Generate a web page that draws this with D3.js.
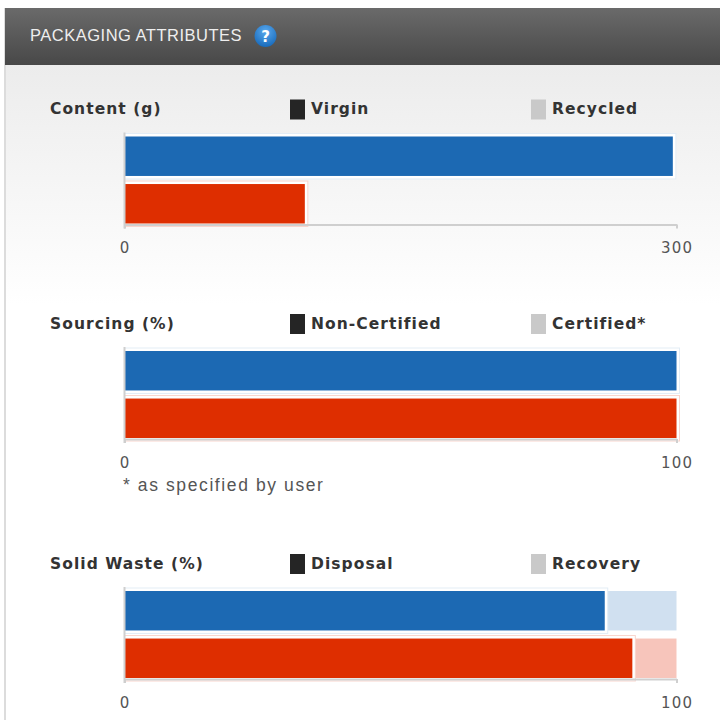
<!DOCTYPE html>
<html>
<head>
<meta charset="utf-8">
<script src="https://d3js.org/d3.v7.min.js"></script>
<style>
html, body {margin: 0; padding: 0; background: #fff;}
svg {display: block;}
.title {font: bold 15.5px "DejaVu Sans"; fill: #333; letter-spacing: 1.05px;}
.tick text {font: 15px "DejaVu Sans"; fill: #555; letter-spacing: 1.2px;}
.axis path, .tick line {stroke: #cfcfcf; stroke-width: 2px;}
</style>
</head>
<body>
<svg width="720" height="720"></svg>
<script>
// one array per chart row: [blue bar, red bar], solid part of the stack
var contentSolid = [298, 98];
var contentLight = [0, 0];
var sourcingSolid = [100, 100];
var sourcingLight = [0, 0];
var wasteSolid = [87, 92];
var wasteLight = [13, 8];

var titles = ["Content (g)", "Sourcing (%)", "Solid Waste (%)"];
var legendDark = ["Virgin", "Non-Certified", "Disposal"];
var legendLight = ["Recycled", "Certified*", "Recovery"];
var maxValues = [300, 100, 100];
var footnote = "* as specified by user";
var header = "PACKAGING ATTRIBUTES";

var rows = [
  {title: 0, top: 136.5, solid: contentSolid, light: contentLight},
  {title: 1, top: 351, solid: sourcingSolid, light: sourcingLight},
  {title: 2, top: 591, solid: wasteSolid, light: wasteLight}
];

var colors = {blue: "#1c69b3", red: "#de2e00", blueLight: "#d0e0f0", redLight: "#f7c5bb"};
var left = 124.5, right = 676.5;

var svg = d3.select("svg");
var defs = svg.append("defs");

var hg = defs.append("linearGradient").attr("id", "hdr").attr("x2", 0).attr("y2", 1);
hg.append("stop").attr("offset", 0).attr("stop-color", "#6a6a6a");
hg.append("stop").attr("offset", 1).attr("stop-color", "#484848");

var pg = defs.append("linearGradient").attr("id", "panel").attr("x2", 0).attr("y2", 1);
pg.append("stop").attr("offset", 0).attr("stop-color", "#ececec");
pg.append("stop").attr("offset", 1).attr("stop-color", "#ffffff");

var qg = defs.append("radialGradient").attr("id", "help").attr("cy", 0.3).attr("r", 0.8);
qg.append("stop").attr("offset", 0).attr("stop-color", "#5aa9ee");
qg.append("stop").attr("offset", 1).attr("stop-color", "#0f62b4");

// page frame and header
svg.append("rect").attr("x", 5).attr("y", 65).attr("width", 715).attr("height", 240).attr("fill", "url(#panel)");
svg.append("rect").attr("x", 4).attr("y", 8).attr("width", 2).attr("height", 712).attr("fill", "#dcdcdc");
svg.append("rect").attr("x", 5).attr("y", 8).attr("width", 715).attr("height", 57).attr("fill", "url(#hdr)");
svg.append("text").attr("x", 30).attr("y", 41)
  .style("font", "16.5px 'Liberation Sans'").style("letter-spacing", "0.5px").style("fill", "#eee").text(header);
svg.append("circle").attr("cx", 265.5).attr("cy", 36).attr("r", 11).attr("fill", "url(#help)");
svg.append("text").attr("x", 265.5).attr("y", 41.5).attr("text-anchor", "middle")
  .style("font", "bold 15px 'DejaVu Sans'").style("fill", "#fff").text("?");

rows.forEach(function(r) {
  var x = d3.scaleLinear().domain([0, maxValues[r.title]]).range([left, right]);
  var y = d3.scaleBand().domain([0, 1]).range([r.top, r.top + 87]).paddingInner(0.17);
  var g = svg.append("g");

  // title and legend
  g.append("text").attr("class", "title").attr("x", 50).attr("y", r.top - 22.5).text(titles[r.title]);
  g.append("rect").attr("x", 290).attr("y", r.top - 37).attr("width", 15).attr("height", 20).attr("fill", "#252525");
  g.append("text").attr("class", "title").attr("x", 311).attr("y", r.top - 22.5).text(legendDark[r.title]);
  g.append("rect").attr("x", 531).attr("y", r.top - 37).attr("width", 15).attr("height", 20).attr("fill", "#c9c9c9");
  g.append("text").attr("class", "title").attr("x", 552).attr("y", r.top - 22.5).text(legendLight[r.title]);

  // light remainder behind the solid bars
  g.selectAll("rect.light").data(r.light).enter().append("rect")
    .attr("class", "light")
    .attr("x", function(d, i) { return x(r.solid[i]); })
    .attr("y", function(d, i) { return y(i); })
    .attr("width", function(d) { return x(d) - x(0); })
    .attr("height", y.bandwidth())
    .attr("fill", function(d, i) { return i ? colors.redLight : colors.blueLight; });

  // white halo round each solid bar
  g.selectAll("rect.halo").data(r.solid).enter().append("rect")
    .attr("class", "halo")
    .attr("x", x(0))
    .attr("y", function(d, i) { return y(i) - 3; })
    .attr("width", function(d) { return x(d) - x(0) + 3; })
    .attr("height", y.bandwidth() + 6)
    .attr("fill", "#fff")
    .attr("stroke", function(d, i) { return i ? "#f9d5cd" : "#e3edf6"; });

  g.selectAll("rect.solid").data(r.solid).enter().append("rect")
    .attr("class", "solid")
    .attr("x", x(0))
    .attr("y", function(d, i) { return y(i); })
    .attr("width", function(d) { return x(d) - x(0); })
    .attr("height", y.bandwidth())
    .attr("fill", function(d, i) { return i ? colors.red : colors.blue; });

  // axes
  var yAxisLine = r.top + 88;
  g.append("line").attr("x1", x(0)).attr("x2", x(0)).attr("y1", r.top - 4).attr("y2", yAxisLine + 4)
    .attr("stroke", "#cfcfcf").attr("stroke-width", 2);
  g.append("g").attr("class", "axis")
    .attr("transform", "translate(0," + yAxisLine + ")")
    .call(d3.axisBottom(x).tickValues([0, maxValues[r.title]]).tickSize(4).tickSizeOuter(0).tickPadding(14).tickFormat(d3.format("d")));
});

svg.append("text").attr("x", 123).attr("y", 491)
  .style("font", "17.5px 'Liberation Sans'").style("letter-spacing", "1.6px").style("fill", "#555").text(footnote);
</script>
</body>
</html>
